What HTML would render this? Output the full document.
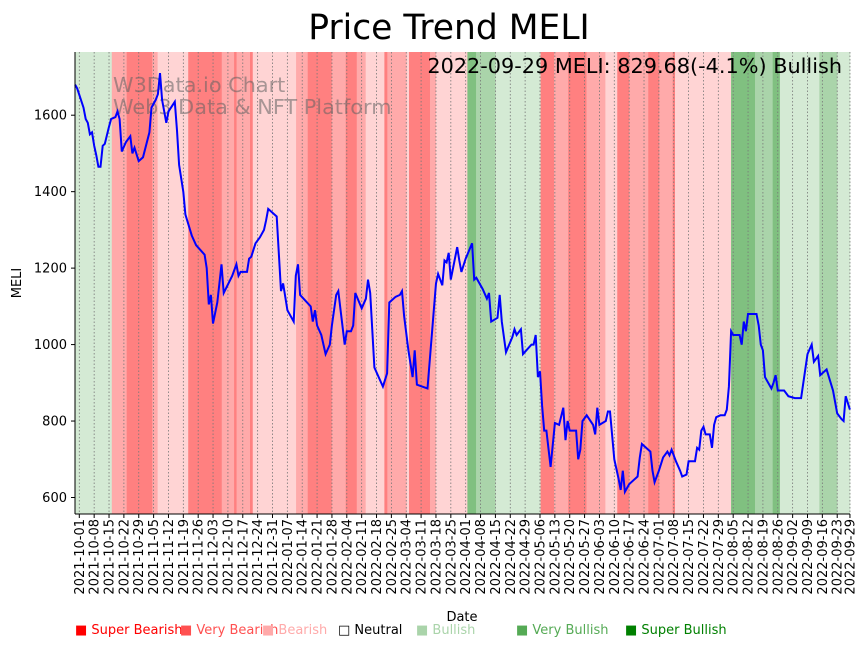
<!DOCTYPE html>
<html><head><meta charset="utf-8"><style>
body{margin:0;background:#fff}
svg{display:block;font-family:"DejaVu Sans","Liberation Sans",sans-serif}
</style></head><body>
<svg id="chart" width="868" height="646" viewBox="0 0 868 646">
<text x="449" y="39" font-size="34.5" text-anchor="middle">Price Trend MELI</text>
<g id="bands"></g>
<g id="grid"></g>
<text x="113" y="92" font-size="20.8" fill="#606060" fill-opacity="0.55">W3Data.io Chart</text>
<text x="113" y="114" font-size="20.8" fill="#606060" fill-opacity="0.55">Web3 Data &amp; NFT Platform</text>
<path id="line" fill="none" stroke="#0000ff" stroke-width="2"/>
<text x="842" y="73" font-size="20.8" text-anchor="end">2022-09-29 MELI: 829.68(-4.1%) Bullish</text>
<line x1="75" y1="52" x2="75" y2="514" stroke="#000"/>
<line x1="75" y1="514" x2="850" y2="514" stroke="#000"/>
<g id="yticks"></g>
<g id="xticks"></g>
<text transform="translate(21,283) rotate(-90)" font-size="13" text-anchor="middle">MELI</text>
<text x="462" y="621" font-size="13" text-anchor="middle">Date</text>
<g font-size="13">
<text x="75" y="634" fill="#ff0000">■ Super Bearish</text>
<text x="180" y="634" fill="#ff5050">■ Very Bearish</text>
<text x="262" y="634" fill="#ffaaaa">■ Bearish</text>
<text x="338" y="634" fill="#000">□ Neutral</text>
<text x="416" y="634" fill="#aad4aa">■ Bullish</text>
<text x="516" y="634" fill="#55aa55">■ Very Bullish</text>
<text x="625" y="634" fill="#008000">■ Super Bullish</text>
</g>
</svg>
<script>
// day offsets from 2021-10-01
const days=[-2,-1,2,3,4,5,6,7,8,9,10,11,12,14,15,17,18,19,20,22,24,25,26,28,30,33,34,36,37,38,39,41,42,45,46,47,49,50,53,55,59,60,61,62,63,65,67,68,72,74,75,76,79,80,81,83,85,87,88,89,93,95,96,98,101,102,103,104,109,110,111,112,114,116,118,119,121,122,125,126,128,129,130,133,135,136,137,139,143,145,146,149,151,152,153,155,157,158,159,164,167,168,169,171,172,173,174,175,178,179,180,182,185,186,187,190,192,193,194,197,198,199,201,204,205,206,208,209,213,214,215,216,217,218,219,220,222,224,226,228,229,230,231,234,235,236,237,239,242,243,244,245,248,249,250,252,254,255,256,257,259,263,264,265,267,269,270,271,273,275,277,278,279,281,283,284,286,287,290,291,292,293,294,295,297,298,299,300,302,304,305,306,307,308,311,312,313,314,315,319,320,321,322,323,326,327,328,329,332,334,337,340,343,345,346,348,349,352,355,357,359,360,361,363];
const prices=[1680,1670,1620,1590,1580,1550,1555,1520,1495,1465,1465,1520,1525,1570,1590,1595,1610,1590,1505,1530,1545,1500,1515,1480,1490,1555,1620,1640,1655,1710,1640,1580,1610,1635,1560,1470,1400,1340,1285,1260,1235,1200,1105,1130,1055,1110,1210,1135,1180,1210,1180,1190,1190,1225,1230,1265,1280,1300,1325,1355,1335,1140,1160,1090,1060,1180,1210,1130,1100,1060,1090,1050,1025,975,1000,1050,1130,1140,1000,1035,1035,1050,1135,1095,1120,1170,1135,940,890,925,1110,1125,1130,1140,1075,985,915,985,895,885,1090,1160,1185,1155,1220,1215,1240,1170,1255,1220,1190,1225,1265,1170,1175,1145,1120,1135,1060,1070,1130,1060,980,1020,1040,1025,1040,975,1000,1000,1025,915,930,840,775,775,680,795,790,835,750,800,775,775,700,725,800,815,790,765,835,790,800,825,825,700,650,620,670,615,635,655,705,740,730,720,670,640,670,705,720,710,725,695,670,655,660,695,695,730,725,775,785,765,765,730,790,810,815,815,830,890,1035,1025,1025,1000,1060,1035,1080,1080,1050,1000,985,915,885,900,920,880,880,865,860,860,975,1000,955,970,920,935,880,820,805,800,865,830];
// trend bands: start day, end day, category
const bandStart=[-2,15.3,22.3,34.4,36.9,51.3,67.1,72.9,74.1,80.4,81.7,102.1,107.6,118.9,125.5,130.7,134.9,143.7,145.1,154.2,155.3,165.2,168,182.8,186.9,196.1,217.3,223.6,226.1,230.3,238.9,247.8,253.4,259.1,268,273.2,279.5,280.6,307,318.3,326.6,330,348.6,357.1];
const bandEnd=[15.3,22.3,34.4,36.9,51.3,67.1,72.9,74.1,80.4,81.7,102.1,107.6,118.9,125.5,130.7,134.9,143.7,145.1,154.2,155.3,165.2,168,182.8,186.9,196.1,217.3,223.6,226.1,230.3,238.9,247.8,253.4,259.1,268,273.2,279.5,280.6,307,318.3,326.6,330,348.6,357.1,363];
const bandCat=["bull1","bear2","bear3","bear2","bear1","bear3","bear2","bear3","bear2","bear3","bear1","bear2","bear3","bear2","bear3","bear2","bear1","bear3","bear2","bear1","bear3","bear2","bear1","bull3","bull2","bull1","bear3","bear2","bear2","bear3","bear2","bear1","bear3","bear2","bear3","bear2","bear3","bear1","bull3","bull2","bull3","bull1","bull2","bull1"];
const yTicks=[600,800,1000,1200,1400,1600];
const tickDays=[0,7,14,21,28,35,42,49,56,63,70,77,84,91,98,105,112,119,126,133,140,147,154,161,168,175,182,189,196,203,210,217,224,231,238,245,252,259,266,273,280,287,294,301,308,315,322,329,336,343,350,357,363];

const catColor={bull1:"#d4ead4",bull2:"#aad4aa",bull3:"#80c080",bear1:"#ffd4d4",bear2:"#ffaaaa",bear3:"#ff8080"};
const NS="http://www.w3.org/2000/svg";
const X0=79.3,PXD=2.123,TOP=52,BOT=514;
const xs=d=>X0+d*PXD;
const ys=v=>497.5-(v-600)*0.3823;
function mk(tag,attrs,parent){const e=document.createElementNS(NS,tag);for(const k in attrs)e.setAttribute(k,attrs[k]);parent.appendChild(e);return e;}
const bands=document.getElementById('bands');
for(let i=0;i<bandStart.length;i++){
  const r=mk('rect',{x:xs(bandStart[i]),y:TOP,width:Math.max(0,xs(bandEnd[i])-xs(bandStart[i])+0.3),height:BOT-TOP,fill:catColor[bandCat[i]]},bands);
  
  
}
const grid=document.getElementById('grid'),xt=document.getElementById('xticks');
function fmt(d){const t=new Date(Date.UTC(2021,9,1)+d*86400000);return t.toISOString().slice(0,10);}
tickDays.forEach(d=>{
  const x=xs(d);
  const g=mk('line',{x1:x,y1:TOP,x2:x,y2:BOT,stroke:"#777","stroke-width":0.8,"stroke-dasharray":"1.5,2"},grid);
  
  
  const t=mk('line',{x1:x,y1:BOT,x2:x,y2:BOT+4,stroke:"#000"},xt);
  
  
  const l=mk('text',{transform:`translate(${x+4.5},519) rotate(-90)`,"font-size":13,"text-anchor":"end"},xt);
  l.textContent=fmt(d);
  
  
});
const yt=document.getElementById('yticks');
yTicks.forEach(v=>{
  const y=ys(v);
  const t=mk('line',{x1:71,y1:y,x2:75,y2:y,stroke:"#000"},yt);
  
  
  const l=mk('text',{x:67,y:y+4.5,"font-size":13,"text-anchor":"end"},yt);
  l.textContent=v;
  
  
});
document.getElementById('line').setAttribute('d',days.map((d,i)=>(i?'L':'M')+xs(d).toFixed(1)+','+ys(prices[i]).toFixed(1)).join(''));
</script>
</body></html>
